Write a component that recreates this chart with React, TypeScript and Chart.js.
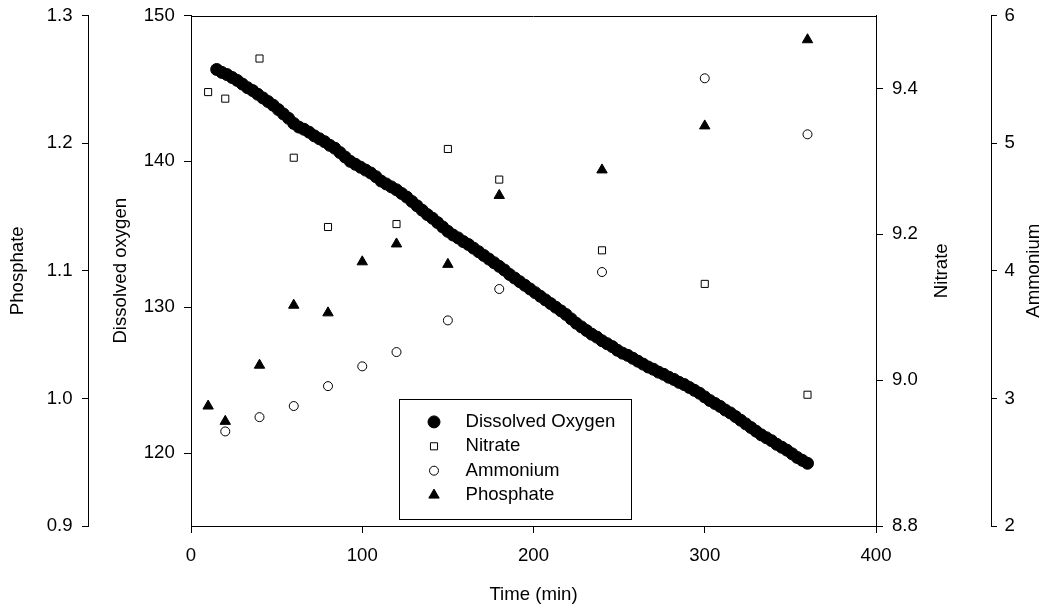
import { useEffect, useRef } from 'react';
import { Chart, registerables } from 'chart.js';
import { drawPoint } from 'chart.js/helpers';

Chart.register(...registerables);

const FONT = "Arial, 'Liberation Sans', Helvetica, sans-serif";
const FS = 18.6;

// Tick labels
const X_TICKS = [0, 100, 200, 300, 400];
const DO_TICKS = [120, 130, 140, 150];
const PHOSPHATE_TICKS = [0.9, 1.0, 1.1, 1.2, 1.3];
const NITRATE_TICKS = [8.8, 9.0, 9.2, 9.4];
const AMMONIUM_TICKS = [2, 3, 4, 5, 6];

// Dissolved oxygen logged every 3 min from 15 min
const DO_T0 = 15;
const DO_DT = 3;
const DISSOLVED_OXYGEN = [
  146.3, 146.1, 145.95, 145.75, 145.55, 145.3, 145.05, 144.85, 144.6, 144.35, 144.1, 143.85, 143.55, 143.25, 142.95, 142.6,
  142.35, 142.2, 142.0, 141.75, 141.55, 141.35, 141.1, 140.9, 140.6, 140.3, 140.0, 139.8, 139.6, 139.4, 139.2, 138.95, 138.65, 138.45, 138.25, 138.05,
  137.8, 137.55, 137.25, 136.95, 136.65, 136.35, 136.1, 135.8, 135.5, 135.2, 134.95, 134.75, 134.5, 134.3, 134.05, 133.8, 133.55, 133.3, 133.05, 132.8,
  132.55, 132.25, 132.0, 131.75, 131.5, 131.25, 131.0, 130.75, 130.5, 130.25, 130.0, 129.75, 129.5, 129.2, 128.9, 128.65, 128.4, 128.15, 127.95, 127.7,
  127.5, 127.3, 127.05, 126.85, 126.7, 126.5, 126.3, 126.1, 125.9, 125.75, 125.55, 125.4, 125.2, 125.05, 124.85, 124.7, 124.5, 124.3, 124.1, 123.85,
  123.6, 123.4, 123.2, 122.95, 122.75, 122.5, 122.25, 122.0, 121.75, 121.5, 121.25, 121.05, 120.85, 120.6, 120.4, 120.2, 119.95, 119.7, 119.5, 119.3,
];

const NITRATE_TIME = [10, 20, 40, 60, 80, 120, 150, 180, 240, 300, 360];
const NITRATE = [9.395, 9.386, 9.441, 9.305, 9.21, 9.214, 9.317, 9.275, 9.178, 9.132, 8.98];

const AMMONIUM_TIME = [20, 40, 60, 80, 100, 120, 150, 180, 240, 300, 360];
const AMMONIUM = [2.741, 2.853, 2.94, 3.096, 3.251, 3.363, 3.611, 3.857, 3.99, 5.508, 5.069];

const PHOSPHATE_TIME = [10, 20, 40, 60, 80, 100, 120, 150, 180, 240, 300, 360];
const PHOSPHATE = [0.994, 0.982, 1.026, 1.073, 1.067, 1.107, 1.121, 1.105, 1.159, 1.179, 1.2135, 1.281];

const pts = (xs: number[], ys: number[]) => ys.map((y, i) => ({ x: xs[i], y }));

const setTicks = (list: number[]) => (axis: any) => {
  axis.ticks = list.map((value) => ({ value }));
};

const tickFont = { family: FONT, size: FS };

const yAxisBase = (position: 'left' | 'right', weight: number, width: number, tl: number, pad: number) => ({
  type: 'linear' as const,
  position,
  weight,
  afterFit: (s: any) => {
    s.width = width;
    s.paddingTop = 0;
    s.paddingBottom = 0;
  },
  border: { display: true, color: '#000', width: 1 },
  grid: { drawOnChartArea: false, drawTicks: true, tickLength: tl, color: '#000', lineWidth: 1 },
  ticks: { color: '#000', font: tickFont, padding: pad, autoSkip: false },
});

const overlayPlugin = {
  id: 'overlay',
  afterDraw(chart: any) {
    const { ctx, chartArea: ca } = chart;
    ctx.save();
    // top frame line
    ctx.strokeStyle = '#000';
    ctx.lineWidth = 1;
    ctx.beginPath();
    ctx.moveTo(ca.left, Math.round(ca.top) + 0.5);
    ctx.lineTo(ca.right, Math.round(ca.top) + 0.5);
    ctx.stroke();

    // right-hand axis titles (read bottom-to-top)
    ctx.fillStyle = '#000';
    ctx.font = `${FS}px ${FONT}`;
    ctx.textAlign = 'center';
    ctx.textBaseline = 'middle';
    const cy = (ca.top + ca.bottom) / 2;
    const titles: [string, number][] = [
      ['Nitrate', chart.scales.yN.left + 65.5],
      ['Ammonium', chart.scales.yA.left + 42.5],
    ];
    for (const [text, x] of titles) {
      ctx.save();
      ctx.translate(x, cy);
      ctx.rotate(-Math.PI / 2);
      ctx.fillText(text, 0, 0);
      ctx.restore();
    }

    // legend
    const lx = ca.left + 208;
    const ly = ca.top + 383;
    const lw = 232;
    const lh = 119.5;
    ctx.fillStyle = '#fff';
    ctx.fillRect(lx, ly, lw, lh);
    ctx.strokeStyle = '#000';
    ctx.lineWidth = 1;
    ctx.strokeRect(Math.round(lx) + 0.5, Math.round(ly) + 0.5, Math.round(lw), Math.round(lh));
    chart.data.datasets.forEach((ds: any, i: number) => {
      const y = ly + 23.4 + i * 24.4;
      ctx.fillStyle = ds.backgroundColor;
      ctx.strokeStyle = ds.borderColor;
      ctx.lineWidth = ds.borderWidth;
      drawPoint(ctx, { pointStyle: ds.pointStyle, radius: ds.pointRadius, rotation: 0, borderWidth: ds.borderWidth }, lx + 35, y);
      ctx.fillStyle = '#000';
      ctx.textAlign = 'left';
      ctx.textBaseline = 'middle';
      ctx.fillText(ds.label, lx + 66.5, y);
    });
    ctx.restore();
  },
};

export default function App() {
  const ref = useRef<HTMLCanvasElement | null>(null);

  useEffect(() => {
    if (!ref.current) return;
    const doPts = DISSOLVED_OXYGEN.map((y, i) => ({ x: DO_T0 + i * DO_DT, y }));
    const chart = new Chart(ref.current, {
      type: 'scatter',
      data: {
        datasets: [
          {
            label: 'Dissolved Oxygen',
            data: doPts,
            yAxisID: 'yDO',
            pointStyle: 'circle',
            pointRadius: 6,
            backgroundColor: '#000',
            borderColor: '#000',
            borderWidth: 1,
          },
          {
            label: 'Nitrate',
            data: pts(NITRATE_TIME, NITRATE),
            yAxisID: 'yN',
            pointStyle: 'rect',
            pointRadius: 5,
            backgroundColor: '#fff',
            borderColor: '#000',
            borderWidth: 1,
          },
          {
            label: 'Ammonium',
            data: pts(AMMONIUM_TIME, AMMONIUM),
            yAxisID: 'yA',
            pointStyle: 'circle',
            pointRadius: 4.5,
            backgroundColor: '#fff',
            borderColor: '#000',
            borderWidth: 1,
          },
          {
            label: 'Phosphate',
            data: pts(PHOSPHATE_TIME, PHOSPHATE),
            yAxisID: 'yP',
            pointStyle: 'triangle',
            pointRadius: 6,
            backgroundColor: '#000',
            borderColor: '#000',
            borderWidth: 1,
          },
        ],
      },
      options: {
        animation: false,
        responsive: false,
        devicePixelRatio: 1,
        layout: { padding: { top: 15.5, left: 0, right: 0, bottom: 0 } },
        plugins: { legend: { display: false }, tooltip: { enabled: false } },
        scales: {
          x: {
            type: 'linear',
            position: 'bottom',
            min: 0,
            max: 400,
            afterFit: (s: any) => {
              s.height = 86;
              s.paddingLeft = 0;
              s.paddingRight = 0;
            },
            afterBuildTicks: setTicks(X_TICKS),
            border: { display: true, color: '#000', width: 1 },
            grid: { drawOnChartArea: false, drawTicks: true, tickLength: 7, color: '#000', lineWidth: 1 },
            ticks: { color: '#000', font: tickFont, padding: 11.4, maxRotation: 0, autoSkip: false },
            title: {
              display: true,
              text: 'Time (min)',
              color: '#000',
              font: { family: FONT, size: FS },
              padding: { top: 0, bottom: 5.5 },
            },
          },
          yP: {
            ...yAxisBase('left', 1, 88, 6, 9.5),
            min: 0.9,
            max: 1.3,
            afterBuildTicks: setTicks(PHOSPHATE_TICKS),
            ticks: { ...yAxisBase('left', 1, 88, 6, 9.5).ticks, callback: (v: any) => Number(v).toFixed(1) },
            title: {
              display: true,
              text: 'Phosphate',
              color: '#000',
              font: { family: FONT, size: FS },
              padding: { top: 7, bottom: 0 },
            },
          },
          yDO: {
            ...yAxisBase('left', 0, 103, 7, 9.2),
            min: 115,
            max: 150,
            afterBuildTicks: setTicks(DO_TICKS),
            title: {
              display: true,
              text: 'Dissolved oxygen',
              color: '#000',
              font: { family: FONT, size: FS },
              padding: { top: 21.5, bottom: 0 },
            },
          },
          yN: {
            ...yAxisBase('right', 0, 115, 7, 9),
            min: 8.8,
            max: 9.5,
            afterBuildTicks: setTicks(NITRATE_TICKS),
            ticks: { ...yAxisBase('right', 0, 115, 7, 9).ticks, callback: (v: any) => Number(v).toFixed(1) },
          },
          yA: {
            ...yAxisBase('right', 1, 61, 6, 7.5),
            min: 2,
            max: 6,
            afterBuildTicks: setTicks(AMMONIUM_TICKS),
          },
        },
      },
      plugins: [overlayPlugin],
    });
    return () => chart.destroy();
  }, []);

  return (
    <div style={{ position: 'absolute', left: 0, top: 0, width: 1052, height: 612, background: '#fff' }}>
      <canvas ref={ref} width={1052} height={612} style={{ width: 1052, height: 612, display: 'block' }} />
    </div>
  );
}
